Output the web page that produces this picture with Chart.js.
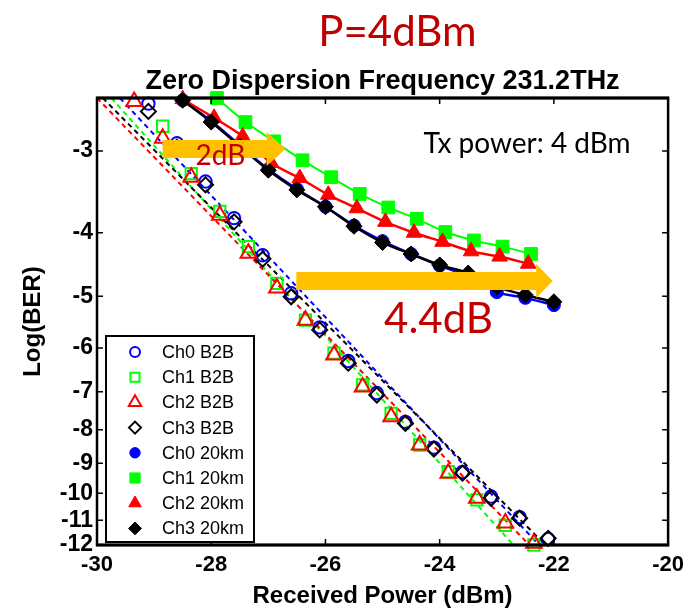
<!DOCTYPE html>
<html><head><meta charset="utf-8">
<script src="https://cdn.jsdelivr.net/npm/chart.js@4.4.1/dist/chart.umd.min.js"></script>
<style>html,body{margin:0;padding:0;background:#fff;}#wrap{width:691px;height:609px;}</style>
</head><body><div id="wrap"><canvas id="c" width="691" height="609"></canvas></div>
<script>
// ---- data (Received power in dBm, log10(BER)) ----
const b2bX_ch0ch3 = [-29.1,-28.6,-28.1,-27.6,-27.1,-26.6,-26.1,-25.6,-25.1,-24.6,-24.1,-23.6,-23.1,-22.6,-22.1];
const ch0B2B = [-2.54,-2.92,-3.34,-3.80,-4.33,-4.95,-5.58,-6.28,-7.03,-7.78,-8.52,-9.28,-10.12,-10.88,-11.75];
const ch3B2B = [-2.61,-2.96,-3.38,-3.85,-4.39,-5.01,-5.63,-6.33,-7.08,-7.82,-8.56,-9.32,-10.18,-10.92,-11.72];
const ch1B2BX = [-28.85,-28.35,-27.85,-27.35,-26.85,-26.35,-25.85,-25.35,-24.85,-24.35,-23.85,-23.35,-22.85,-22.35];
const ch1B2B = [-2.75,-3.25,-3.71,-4.20,-4.78,-5.44,-6.11,-6.83,-7.55,-8.44,-9.27,-10.24,-11.20,-12.00];
const ch2B2BX = [-29.35,-28.85,-28.35,-27.85,-27.35,-26.85,-26.35,-25.85,-25.35,-24.85,-24.35,-23.85,-23.35,-22.85,-22.35];
const ch2B2B = [-2.52,-2.87,-3.29,-3.76,-4.30,-4.86,-5.44,-6.15,-6.88,-7.64,-8.44,-9.32,-10.18,-11.11,-11.93];

const km20X_ch0ch3 = [-28.5,-28.0,-27.5,-27.0,-26.5,-26.0,-25.5,-25.0,-24.5,-24.0,-23.5,-23.0,-22.5,-22.0];
const ch0km20 = [-2.51,-2.70,-2.94,-3.20,-3.43,-3.65,-3.90,-4.12,-4.31,-4.49,-4.66,-4.93,-5.03,-5.16];
const ch3km20 = [-2.51,-2.71,-2.95,-3.21,-3.44,-3.65,-3.91,-4.14,-4.31,-4.48,-4.61,-4.84,-4.98,-5.10];
const ch2km20X = [-28.5,-27.95,-27.45,-26.95,-26.45,-25.95,-25.45,-24.95,-24.45,-23.95,-23.45,-22.95,-22.45];
const ch2km20 = [-2.50,-2.67,-2.85,-3.13,-3.30,-3.50,-3.67,-3.85,-4.00,-4.13,-4.27,-4.35,-4.46];
const ch1km20X = [-27.9,-27.4,-26.9,-26.4,-25.9,-25.4,-24.9,-24.4,-23.9,-23.4,-22.9,-22.4];
const ch1km20 = [-2.49,-2.71,-2.90,-3.10,-3.29,-3.49,-3.66,-3.81,-3.99,-4.11,-4.20,-4.31];

// B2B linear-fit line end points
const fitCh0X = [-29.6,-22.26], fitCh0Y = [-2.49,-12];
const fitCh1X = [-29.75,-22.71], fitCh1Y = [-2.49,-12];
const fitCh2X = [-30.0,-22.43], fitCh2Y = [-2.49,-12];
const fitCh3X = [-29.9,-22.15], fitCh3Y = [-2.49,-12];

const xTickValues = [-30,-28,-26,-24,-22,-20];
const xTickLabels = ['-30','-28','-26','-24','-22','-20'];
const yTickValues = [-3,-4,-5,-6,-7,-8,-9,-10,-11,-12];
const yTickLabels = ['-3','-4','-5','-6','-7','-8','-9','-10','-11','-12'];
const legendLabels = ['Ch0 B2B','Ch1 B2B','Ch2 B2B','Ch3 B2B','Ch0 20km','Ch1 20km','Ch2 20km','Ch3 20km'];

// ---- scale transform: y = -log10(-log10(BER)) ----
const T = v => -Math.log10(-v);
const pts = (xs, ys) => xs.map((x,i)=>({x:x, y:T(ys[i])}));

const BLUE='#0000ff', GREEN='#00ff00', RED='#ff0000', BLACK='#000000';
const ORANGE='#ffc000', DARKRED='#c00000';
const CAL = 'Lato, "Open Sans", sans-serif';
const ARIAL = '"Liberation Sans", Arial, sans-serif';

function hollow(label, xs, ys, color, style, r, order){
  return {label, data:pts(xs,ys), showLine:false, pointStyle:style, pointRadius:r, pointHoverRadius:r,
    borderColor:color, backgroundColor:'rgba(0,0,0,0)', pointBorderWidth:2, borderWidth:2, order, clip:12};
}
function filled(label, xs, ys, color, style, r, lw, order){
  return {label, data:pts(xs,ys), showLine:true, pointStyle:style, pointRadius:r, pointHoverRadius:r,
    borderColor:color, backgroundColor:color, pointBorderWidth:1, borderWidth:lw, tension:0.3, order, clip:12};
}
function fit(xs, ys, color, order){
  return {label:'', data:pts(xs,ys), showLine:true, pointRadius:0, borderColor:color, borderWidth:2,
    borderDash:[5,4], order, clip:4};
}

const datasets = [
  hollow(legendLabels[0], b2bX_ch0ch3, ch0B2B, BLUE, 'circle', 6.2, 9),
  hollow(legendLabels[1], ch1B2BX, ch1B2B, GREEN, 'rect', 8, 8),
  hollow(legendLabels[2], ch2B2BX, ch2B2B, RED, 'triangle', 9, 6),
  hollow(legendLabels[3], b2bX_ch0ch3, ch3B2B, BLACK, 'rectRot', 7.5, 7),
  filled(legendLabels[4], km20X_ch0ch3, ch0km20, BLUE, 'circle', 6.5, 2.5, 4),
  filled(legendLabels[5], ch1km20X, ch1km20, GREEN, 'rect', 9, 2, 3),
  filled(legendLabels[6], ch2km20X, ch2km20, RED, 'triangle', 9, 2.5, 2),
  filled(legendLabels[7], km20X_ch0ch3, ch3km20, BLACK, 'rectRot', 8, 2.5, 1),
  fit(fitCh0X, fitCh0Y, BLUE, 13),
  fit(fitCh1X, fitCh1Y, GREEN, 12),
  fit(fitCh2X, fitCh2Y, RED, 11),
  fit(fitCh3X, fitCh3Y, BLACK, 10),
];

// annotations (data coordinates)
const arrows = [
  {x0:-28.85, xHead:-27.03, xTip:-26.70, y:-2.98},
  {x0:-26.51, xHead:-22.31, xTip:-22.02, y:-4.74},
];
const notes = [
  {text:'2dB', x:-27.84, y:-3.15, font:'28px '+CAL, color:DARKRED},
  {text:'4.4dB', x:-24.02, y:-5.69, font:'42px '+CAL, color:DARKRED},
  {text:'Tx power: 4 dBm', x:-22.47, y:-3.02, font:'28px '+CAL, color:BLACK},
];

const decorPlugin = {
  id:'decor',
  afterDatasetsDraw(chart){
    const {ctx, chartArea:a, scales:{x, y}} = chart;
    ctx.save();
    // frame
    ctx.strokeStyle='#000';
    ctx.lineWidth=2.5;
    ctx.strokeRect(a.left, a.top, a.right-a.left, a.bottom-a.top);
    ctx.lineWidth=3;
    ctx.beginPath(); ctx.moveTo(a.left-1,a.bottom); ctx.lineTo(a.right+1,a.bottom);
    ctx.moveTo(a.left-1,a.top); ctx.lineTo(a.right+1,a.top); ctx.stroke();
    // inward ticks
    ctx.lineWidth=1.5;
    const L=6;
    ctx.beginPath();
    x.ticks.forEach(t=>{const p=x.getPixelForValue(t.value);
      if(p<=a.left+1||p>=a.right-1) return;
      ctx.moveTo(p,a.bottom); ctx.lineTo(p,a.bottom-L); ctx.moveTo(p,a.top); ctx.lineTo(p,a.top+L);});
    y.ticks.forEach(t=>{const p=y.getPixelForValue(t.value);
      if(p>=a.bottom-1) return;
      ctx.moveTo(a.left,p); ctx.lineTo(a.left+L,p); ctx.moveTo(a.right,p); ctx.lineTo(a.right-L,p);});
    ctx.stroke();
    // arrows
    ctx.fillStyle=ORANGE;
    arrows.forEach(ar=>{
      const x0=x.getPixelForValue(ar.x0), xh=x.getPixelForValue(ar.xHead), xt=x.getPixelForValue(ar.xTip);
      const yc=y.getPixelForValue(T(ar.y));
      const bh=9, hh=17;
      ctx.beginPath();
      ctx.moveTo(x0,yc-bh); ctx.lineTo(xh,yc-bh); ctx.lineTo(xh,yc-hh); ctx.lineTo(xt,yc);
      ctx.lineTo(xh,yc+hh); ctx.lineTo(xh,yc+bh); ctx.lineTo(x0,yc+bh); ctx.closePath(); ctx.fill();
    });
    // notes
    ctx.textAlign='center'; ctx.textBaseline='alphabetic';
    notes.forEach(n=>{ctx.font=n.font; ctx.fillStyle=n.color;
      ctx.fillText(n.text, x.getPixelForValue(n.x), y.getPixelForValue(T(n.y)));});
    // titles
    ctx.fillStyle=DARKRED; ctx.font='42px '+CAL;
    ctx.fillText('P=4dBm', x.getPixelForValue(-24.74), 46);
    ctx.fillStyle='#000'; ctx.font='bold 27px '+ARIAL;
    ctx.fillText('Zero Dispersion Frequency 231.2THz', (a.left+a.right)/2, 89);
    // legend
    const lx=a.left+9, ly=a.top+238, lw=148, lh=206;
    ctx.fillStyle='#fff'; ctx.fillRect(lx,ly,lw,lh);
    ctx.strokeStyle='#000'; ctx.lineWidth=2; ctx.strokeRect(lx,ly,lw,lh);
    ctx.textAlign='left'; ctx.textBaseline='middle'; ctx.font='18px '+ARIAL;
    for(let i=0;i<8;i++){
      const ds=chart.data.datasets[i];
      const yy=ly+16+i*25.2;
      ctx.fillStyle=ds.backgroundColor; ctx.strokeStyle=ds.borderColor; ctx.lineWidth=ds.pointBorderWidth;
      Chart.helpers.drawPoint(ctx,{pointStyle:ds.pointStyle, radius:ds.pointRadius*0.8, borderWidth:ds.pointBorderWidth, rotation:0}, lx+29, yy);
      ctx.fillStyle='#000';
      ctx.fillText(ds.label, lx+56, yy+1);
    }
    ctx.restore();
  }
};

new Chart(document.getElementById('c'), {
  type:'line',
  data:{datasets},
  plugins:[decorPlugin],
  options:{
    responsive:false, animation:false, devicePixelRatio:1,
    layout:{padding:{left:0, right:17.5, top:98, bottom:0}},
    plugins:{legend:{display:false}, tooltip:{enabled:false}, title:{display:false}},
    scales:{
      x:{type:'linear', min:-30, max:-20,
        afterBuildTicks:s=>{s.ticks=xTickValues.map(v=>({value:v}));},
        afterFit:s=>{s.height=64;},
        grid:{display:false, drawTicks:false}, border:{display:false},
        ticks:{autoSkip:false, maxRotation:0, padding:7, color:'#000', font:{family:ARIAL, size:22, weight:'bold'},
          callback:(v,i)=>xTickLabels[i]},
        title:{display:true, text:'Received Power (dBm)', color:'#000', font:{family:ARIAL, size:24, weight:'bold'}, padding:{top:0,bottom:-2}}
      },
      y:{type:'linear', min:T(-12), max:T(-2.49),
        afterBuildTicks:s=>{s.ticks=yTickValues.map(v=>({value:T(v)}));},
        afterFit:s=>{s.width=97;},
        grid:{display:false, drawTicks:false}, border:{display:false},
        ticks:{autoSkip:false, padding:4, color:'#000', font:{family:ARIAL, size:23, weight:'bold'},
          callback:(v,i)=>yTickLabels[i]},
        title:{display:true, text:'Log(BER)', color:'#000', font:{family:ARIAL, size:24, weight:'bold'}, padding:{top:19,bottom:0}}
      }
    }
  }
});
</script></body></html>
